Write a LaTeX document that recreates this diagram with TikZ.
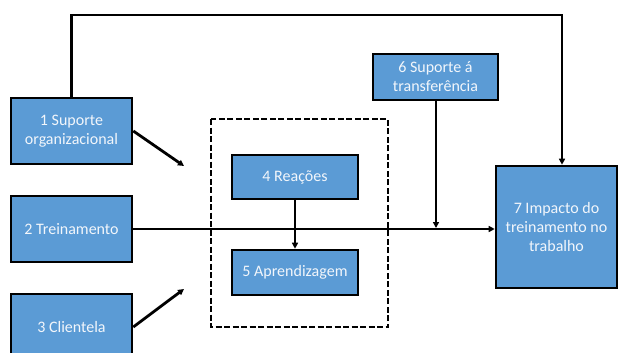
\documentclass[tikz,border=0pt]{standalone}
\usepackage{fontspec}
\setmainfont{Carlito}
\usetikzlibrary{arrows.meta}
\definecolor{boxblue}{HTML}{5B9BD5}
\definecolor{boxtext}{HTML}{F2F6FB}
\tikzset{
  blk/.style={draw=black, line width=2.6pt, fill=boxblue, text=boxtext,
    align=center, inner sep=2pt, font=\fontsize{16}{19}\selectfont},
  link/.style={line width=2.8pt, -{Triangle[length=6pt,width=6pt]}},
  frame/.style={draw=black, line width=2.6pt, dash pattern=on 6pt off 2.5pt}
}
\begin{document}
\begin{tikzpicture}[x=1pt,y=-1pt]
  \useasboundingbox (0,0) rectangle (618,353);
  \begin{scope}
    \clip (0,0) rectangle (618,353);
    % dashed frame around reactions and learning
    \draw[frame] (211,119) rectangle (388,327);
    % boxes
    \node[blk, minimum width=121pt, minimum height=66pt] (b1) at (71.5,131) {1 Suporte\\organizacional};
    \node[blk, minimum width=121pt, minimum height=66pt] (b2) at (71.5,229) {2 Treinamento};
    \node[blk, minimum width=121pt, minimum height=66pt] (b3) at (71.5,327) {3 Clientela};
    \node[blk, minimum width=126pt, minimum height=44pt] (b4) at (295,177) {4 Reações};
    \node[blk, minimum width=126pt, minimum height=45pt] (b5) at (295,272.5) {5 Aprendizagem};
    \node[blk, minimum width=125pt, minimum height=46pt] (b6) at (435.5,77) {6 Suporte á\\transferência};
    \node[blk, minimum width=121pt, minimum height=122pt] (b7) at (556.5,227) {7 Impacto do\\treinamento no\\trabalho};
    % free ends and corners of connectors
    \coordinate (tr) at (562,15);
    \coordinate (j6) at (436,228);
    \coordinate (e1) at (184,166);
    \coordinate (e3) at (184,289);
    % connectors
    \draw[link] (b1.north) |- (tr) -- (tr |- b7.north);
    \draw[link] (b2.east) -- (b2.east -| b7.west);
    \draw[link] (b6.south -| j6) -- (j6);
    \draw[link] (b4.south) -- (b5.north);
    \draw[link] (b1.east) -- (e1);
    \draw[link] (b3.east) -- (e3);
  \end{scope}
\end{tikzpicture}
\end{document}
